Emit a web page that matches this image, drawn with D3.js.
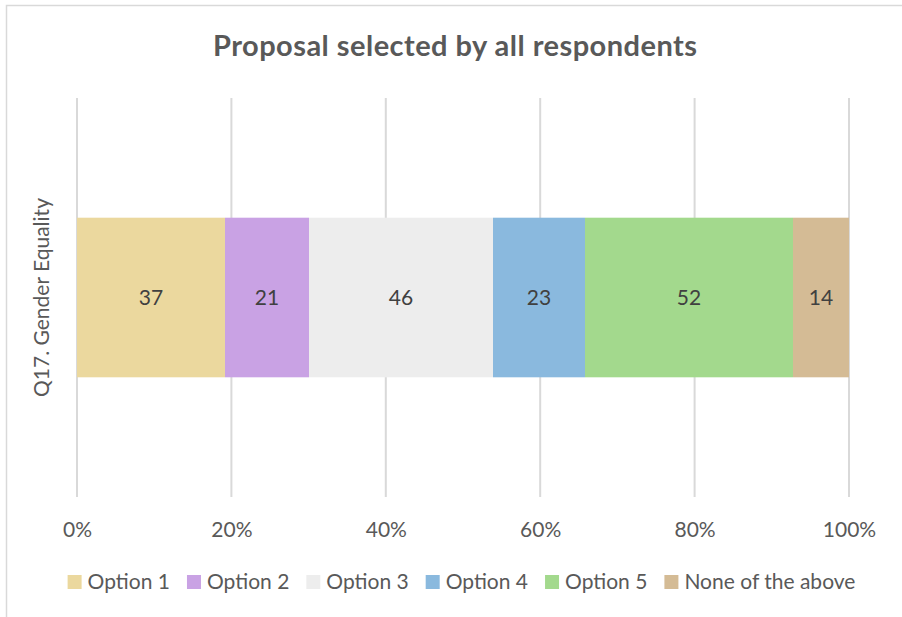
<!DOCTYPE html>
<html>
<head>
<meta charset="utf-8">
<script src="https://cdn.jsdelivr.net/npm/d3@7"></script>
<style>
  html, body { margin: 0; padding: 0; background: #fff; }
  svg { display: block; font-family: Lato, "Open Sans", sans-serif; }
</style>
</head>
<body>
<svg id="chart" width="902" height="617"></svg>
<script>
// Survey responses for one question, stacked as shares of the total
const category = "Q17. Gender Equality";
const seriesNames = ["Option 1", "Option 2", "Option 3", "Option 4", "Option 5", "None of the above"];
const seriesValues = [37, 21, 46, 23, 52, 14];
const seriesColors = ["#EBD89E", "#C9A2E4", "#EDEDED", "#8AB9DE", "#A3D98D", "#D4BB95"];
const tickValues = [0, 0.2, 0.4, 0.6, 0.8, 1];

const svg = d3.select("#chart");
const W = 902, H = 617;
const plot = { left: 77, right: 849, top: 98, bottom: 497 };
const FS = 21;

// outer chart frame
svg.append("rect")
  .attr("x", 6.5).attr("y", 5.5)
  .attr("width", W + 10).attr("height", H + 10)
  .attr("fill", "#fff").attr("stroke", "#D9D9D9").attr("stroke-width", 1.5);

// title
svg.append("text")
  .attr("x", 455).attr("y", 56)
  .attr("text-anchor", "middle")
  .attr("font-size", 29).attr("font-weight", "bold")
  .attr("fill", "#595959")
  .attr("textLength", 484).attr("lengthAdjust", "spacing")
  .text("Proposal selected by all respondents");

const x = d3.scaleLinear().domain([0, 1]).range([plot.left, plot.right]);
const y = d3.scaleBand().domain([category]).range([plot.top, plot.bottom]).paddingInner(0.6).paddingOuter(0.3);

// vertical gridlines
svg.append("g")
  .selectAll("line")
  .data(tickValues)
  .join("line")
  .attr("x1", d => x(d)).attr("x2", d => x(d))
  .attr("y1", plot.top).attr("y2", plot.bottom)
  .attr("stroke", "#D9D9D9").attr("stroke-width", 2);

// x axis tick labels
const xAxis = d3.axisBottom(x)
  .tickValues(tickValues)
  .tickFormat(d3.format(".0%"))
  .tickSize(0).tickPadding(0);
const gx = svg.append("g")
  .attr("transform", `translate(0, 537)`)
  .call(xAxis);
gx.select(".domain").remove();
gx.selectAll("text")
  .attr("font-size", FS).attr("fill", "#595959")
  .attr("font-family", "Lato, 'Open Sans', sans-serif")
  .attr("y", 0).attr("dy", 0);

// stacked segments
const total = d3.sum(seriesValues);
let acc = 0;
const segs = seriesValues.map((v, i) => {
  const s = { name: seriesNames[i], value: v, x0: acc / total, x1: (acc + v) / total, color: seriesColors[i] };
  acc += v;
  return s;
});

const bandY = y(category), bandH = y.bandwidth();
svg.append("g")
  .selectAll("rect")
  .data(segs)
  .join("rect")
  .attr("x", d => x(d.x0))
  .attr("width", d => x(d.x1) - x(d.x0))
  .attr("y", bandY).attr("height", bandH)
  .attr("fill", d => d.color);

svg.append("g")
  .selectAll("text")
  .data(segs)
  .join("text")
  .attr("x", d => (x(d.x0) + x(d.x1)) / 2)
  .attr("y", bandY + bandH / 2)
  .attr("dy", "0.36em")
  .attr("text-anchor", "middle")
  .attr("font-size", FS).attr("fill", "#404040")
  .text(d => d.value);

// category label
svg.append("text")
  .attr("transform", `translate(49, ${bandY + bandH / 2}) rotate(-90)`)
  .attr("text-anchor", "middle")
  .attr("font-size", FS).attr("fill", "#595959")
  .text(category);

// legend
const legend = svg.append("g");
const sw = 14, gap = 6, itemGap = 17;
const items = legend.selectAll("g").data(seriesNames).join("g");
items.append("rect").attr("width", sw).attr("height", sw).attr("y", -sw)
  .attr("fill", (d, i) => seriesColors[i]);
items.append("text").attr("x", sw + gap).attr("y", 0)
  .attr("font-size", FS).attr("fill", "#595959").text(d => d);
let lx = 0;
items.each(function () {
  const w = this.getBBox().width;
  d3.select(this).attr("transform", `translate(${lx},0)`);
  lx += w + itemGap;
});
const totalW = lx - itemGap;
legend.attr("transform", `translate(${461.5 - totalW / 2}, 589)`);
</script>
</body>
</html>
